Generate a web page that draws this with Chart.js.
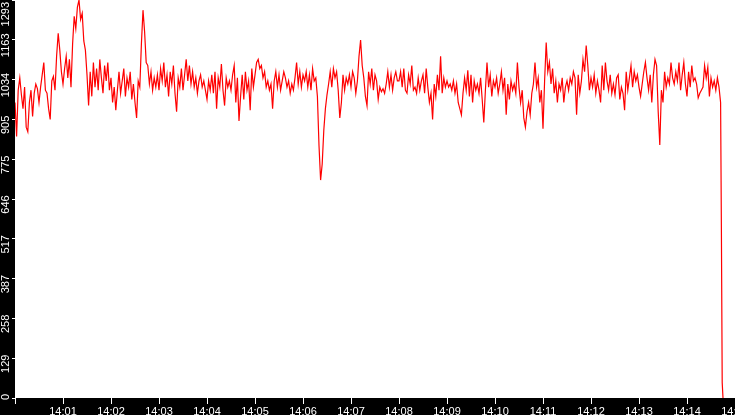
<!DOCTYPE html>
<html>
<head>
<meta charset="utf-8">
<script src="https://cdn.jsdelivr.net/npm/chart.js@4.4.1/dist/chart.umd.min.js"></script>
<style>
  html, body { margin: 0; padding: 0; background: #000; overflow: hidden; }
  #wrap { width: 735px; height: 415px; position: relative; }
</style>
</head>
<body>
<div id="wrap"><canvas id="c"></canvas></div>
<script>
// Sample step: one reading every 2 seconds, starting at 14:00:00
const hourLabel = '14';
const sampleStepSec = 2;

// Values per minute (30 readings each)
const min00 = [960, 850, 1000, 1040, 985, 940, 1010, 880, 865, 960, 1000, 915, 990, 1020, 1005, 960, 1010, 1050, 1090, 1000, 990, 940, 905, 1030, 1045, 1000, 1110, 1185, 1130, 1060];
const min01 = [1020, 1070, 1110, 1040, 1100, 1010, 1150, 1240, 1200, 1270, 1293, 1230, 1250, 1160, 1130, 1050, 950, 1060, 980, 1090, 1010, 1070, 1000, 1100, 1040, 990, 1080, 1030, 1090, 1000];
const min02 = [1040, 960, 1010, 935, 1000, 1060, 990, 1030, 1070, 980, 1040, 1010, 1060, 970, 1020, 960, 910, 1030, 1010, 1150, 1260, 1190, 1090, 1080, 1020, 1060, 1000, 1040, 1010, 1050];
const min03 = [1000, 1070, 1030, 1090, 1010, 1050, 980, 1060, 1020, 1080, 990, 930, 1040, 1010, 1070, 1000, 1050, 1100, 1030, 1080, 1020, 1060, 1010, 1040, 990, 1030, 1050, 1010, 1030, 1000];
const min04 = [970, 1030, 1000, 1050, 990, 1060, 940, 1040, 1010, 1085, 1000, 950, 1040, 1010, 1030, 1000, 1050, 1080, 960, 1040, 900, 980, 1050, 970, 1060, 1000, 1030, 935, 1070, 1010];
const min05 = [1050, 1090, 1100, 1070, 1080, 1040, 1060, 1010, 1030, 1000, 1020, 940, 1030, 1060, 1010, 1050, 1000, 1030, 1060, 1040, 1010, 1030, 990, 1020, 1000, 1040, 1090, 1020, 1060, 1010];
const min06 = [1050, 1030, 1060, 1010, 1050, 1000, 1070, 1030, 1040, 980, 820, 708, 760, 870, 940, 985, 1020, 1060, 1010, 1070, 1040, 1060, 1000, 910, 960, 1050, 1000, 1040, 1020, 1050];
const min07 = [1010, 1060, 1040, 990, 1030, 1110, 1163, 1080, 1040, 980, 950, 1060, 1020, 1070, 1000, 1050, 1030, 970, 1010, 995, 1005, 990, 1020, 1060, 1010, 1050, 1000, 1040, 1060, 1030];
const min08 = [1030, 1060, 1010, 1070, 1000, 990, 1050, 1020, 1080, 1000, 1010, 990, 1040, 1000, 1030, 1050, 990, 1070, 1010, 960, 990, 905, 1020, 980, 1050, 1000, 1110, 990, 1040, 1010];
const min09 = [1030, 1010, 1020, 1000, 1030, 990, 1020, 960, 940, 920, 990, 1040, 1000, 1065, 980, 1050, 960, 1030, 1000, 1020, 990, 1040, 970, 895, 1000, 1090, 1010, 1050, 980, 1030];
const min10 = [1010, 1040, 990, 1020, 1060, 1000, 1040, 920, 1020, 970, 1030, 1000, 1020, 990, 1090, 1010, 960, 1000, 910, 880, 930, 960, 920, 990, 1020, 1090, 1010, 1040, 960, 1000];
const min11 = [875, 1030, 1155, 1060, 1090, 1020, 1070, 990, 1030, 960, 1020, 1000, 1040, 960, 1010, 1030, 1000, 1040, 1020, 1060, 1040, 920, 1050, 990, 1030, 1100, 1060, 1145, 1080, 1000];
const min12 = [1040, 1010, 1050, 990, 1030, 1000, 960, 1080, 1000, 1090, 1030, 1000, 1050, 990, 1020, 985, 1040, 1050, 970, 1010, 990, 935, 1060, 1000, 1040, 1080, 1010, 1060, 1030, 1050];
const min13 = [1010, 980, 1020, 1060, 1090, 1040, 1000, 1050, 960, 1050, 1100, 1080, 930, 822, 1000, 960, 1060, 1010, 1040, 1020, 1090, 1040, 1020, 1060, 1030, 1090, 1000, 1050, 1090, 1020];
const min14 = [980, 1060, 1010, 1080, 1030, 1040, 1020, 975, 990, 1000, 1010, 1080, 1040, 1075, 980, 1040, 1010, 1030, 1000, 1040, 1010, 960];
// Final drop (seconds after 14:00, value)
const tailTimes = [883, 884, 885];
const tailValues = [545, 50, 0];

// Axis settings
const xMaxSec = 900;
const xStepSec = 60;
const yMax = 1293;
const yTickLabels = ['0', '129', '258', '387', '517', '646', '775', '905', '1034', '1163', '1293'];

const minutes = [min00, min01, min02, min03, min04, min05, min06, min07, min08, min09, min10, min11, min12, min13, min14];
const points = [];
minutes.forEach((arr, m) => arr.forEach((v, i) => points.push({ x: m * 60 + i * sampleStepSec, y: v })));
tailTimes.forEach((t, i) => points.push({ x: t, y: tailValues[i] }));

const fontFamily = "'Liberation Sans', Arial, sans-serif";
const font = { family: fontFamily, size: 11 };

const bgPlugin = {
  id: 'bg',
  beforeDraw(chart) {
    const { ctx, chartArea } = chart;
    ctx.save();
    ctx.fillStyle = '#000000';
    ctx.fillRect(0, 0, chart.width, chart.height);
    ctx.fillStyle = '#ffffff';
    ctx.fillRect(chartArea.left, chartArea.top, chartArea.right - chartArea.left, chartArea.bottom - chartArea.top);
    // keep rotated y labels inside the left strip vertically
    const ys = chart.scales.y;
    const items = ys.getLabelItems(chartArea);
    ctx.font = '11px ' + fontFamily;
    items.forEach((it) => {
      const label = Array.isArray(it.label) ? it.label.join('') : String(it.label);
      const half = ctx.measureText(label).width / 2;
      let cy = it.options.translation[1];
      if (cy - half < chartArea.top + 2) cy = chartArea.top + 2 + half;
      if (cy + half > chartArea.bottom + 2) cy = chartArea.bottom + 2 - half;
      it.options.translation[1] = cy;
    });
    ctx.restore();
  }
};

new Chart(document.getElementById('c'), {
  type: 'line',
  data: {
    datasets: [{
      data: points,
      borderColor: '#ff0000',
      borderWidth: 1.2,
      pointRadius: 0,
      tension: 0,
      fill: false
    }]
  },
  options: {
    responsive: true,
    maintainAspectRatio: false,
    devicePixelRatio: 1,
    animation: false,
    layout: { padding: 0 },
    plugins: { legend: { display: false }, tooltip: { enabled: false } },
    scales: {
      x: {
        type: 'linear',
        min: 0,
        max: xMaxSec,
        border: { display: false },
        grid: { drawOnChartArea: false, drawTicks: true, tickLength: 6, tickColor: '#ffffff', color: '#ffffff' },
        ticks: {
          stepSize: xStepSec,
          autoSkip: false,
          maxRotation: 0,
          minRotation: 0,
          padding: 1,
          color: '#ffffff',
          font: font,
          callback: (v) => v === 0 ? '' : hourLabel + ':' + String(Math.round(v / 60)).padStart(2, '0')
        },
        afterFit(s) { s.height = 17; s.paddingLeft = 0; s.paddingRight = 0; }
      },
      y: {
        type: 'linear',
        min: 0,
        max: yMax,
        border: { display: false },
        grid: { drawOnChartArea: false, drawTicks: true, tickLength: 3, tickColor: '#ffffff', color: '#ffffff' },
        afterBuildTicks(s) { s.ticks = yTickLabels.map((l, i) => ({ value: i * yMax / 10 })); },
        ticks: {
          minRotation: 90,
          maxRotation: 90,
          crossAlign: 'center',
          padding: -6,
          labelOffset: 5.5,
          color: '#ffffff',
          font: font,
          callback: (v, i) => yTickLabels[i]
        },
        afterFit(s) { s.width = 15; s.paddingTop = 0; s.paddingBottom = 0; }
      }
    }
  },
  plugins: [bgPlugin]
});
</script>
</body>
</html>
